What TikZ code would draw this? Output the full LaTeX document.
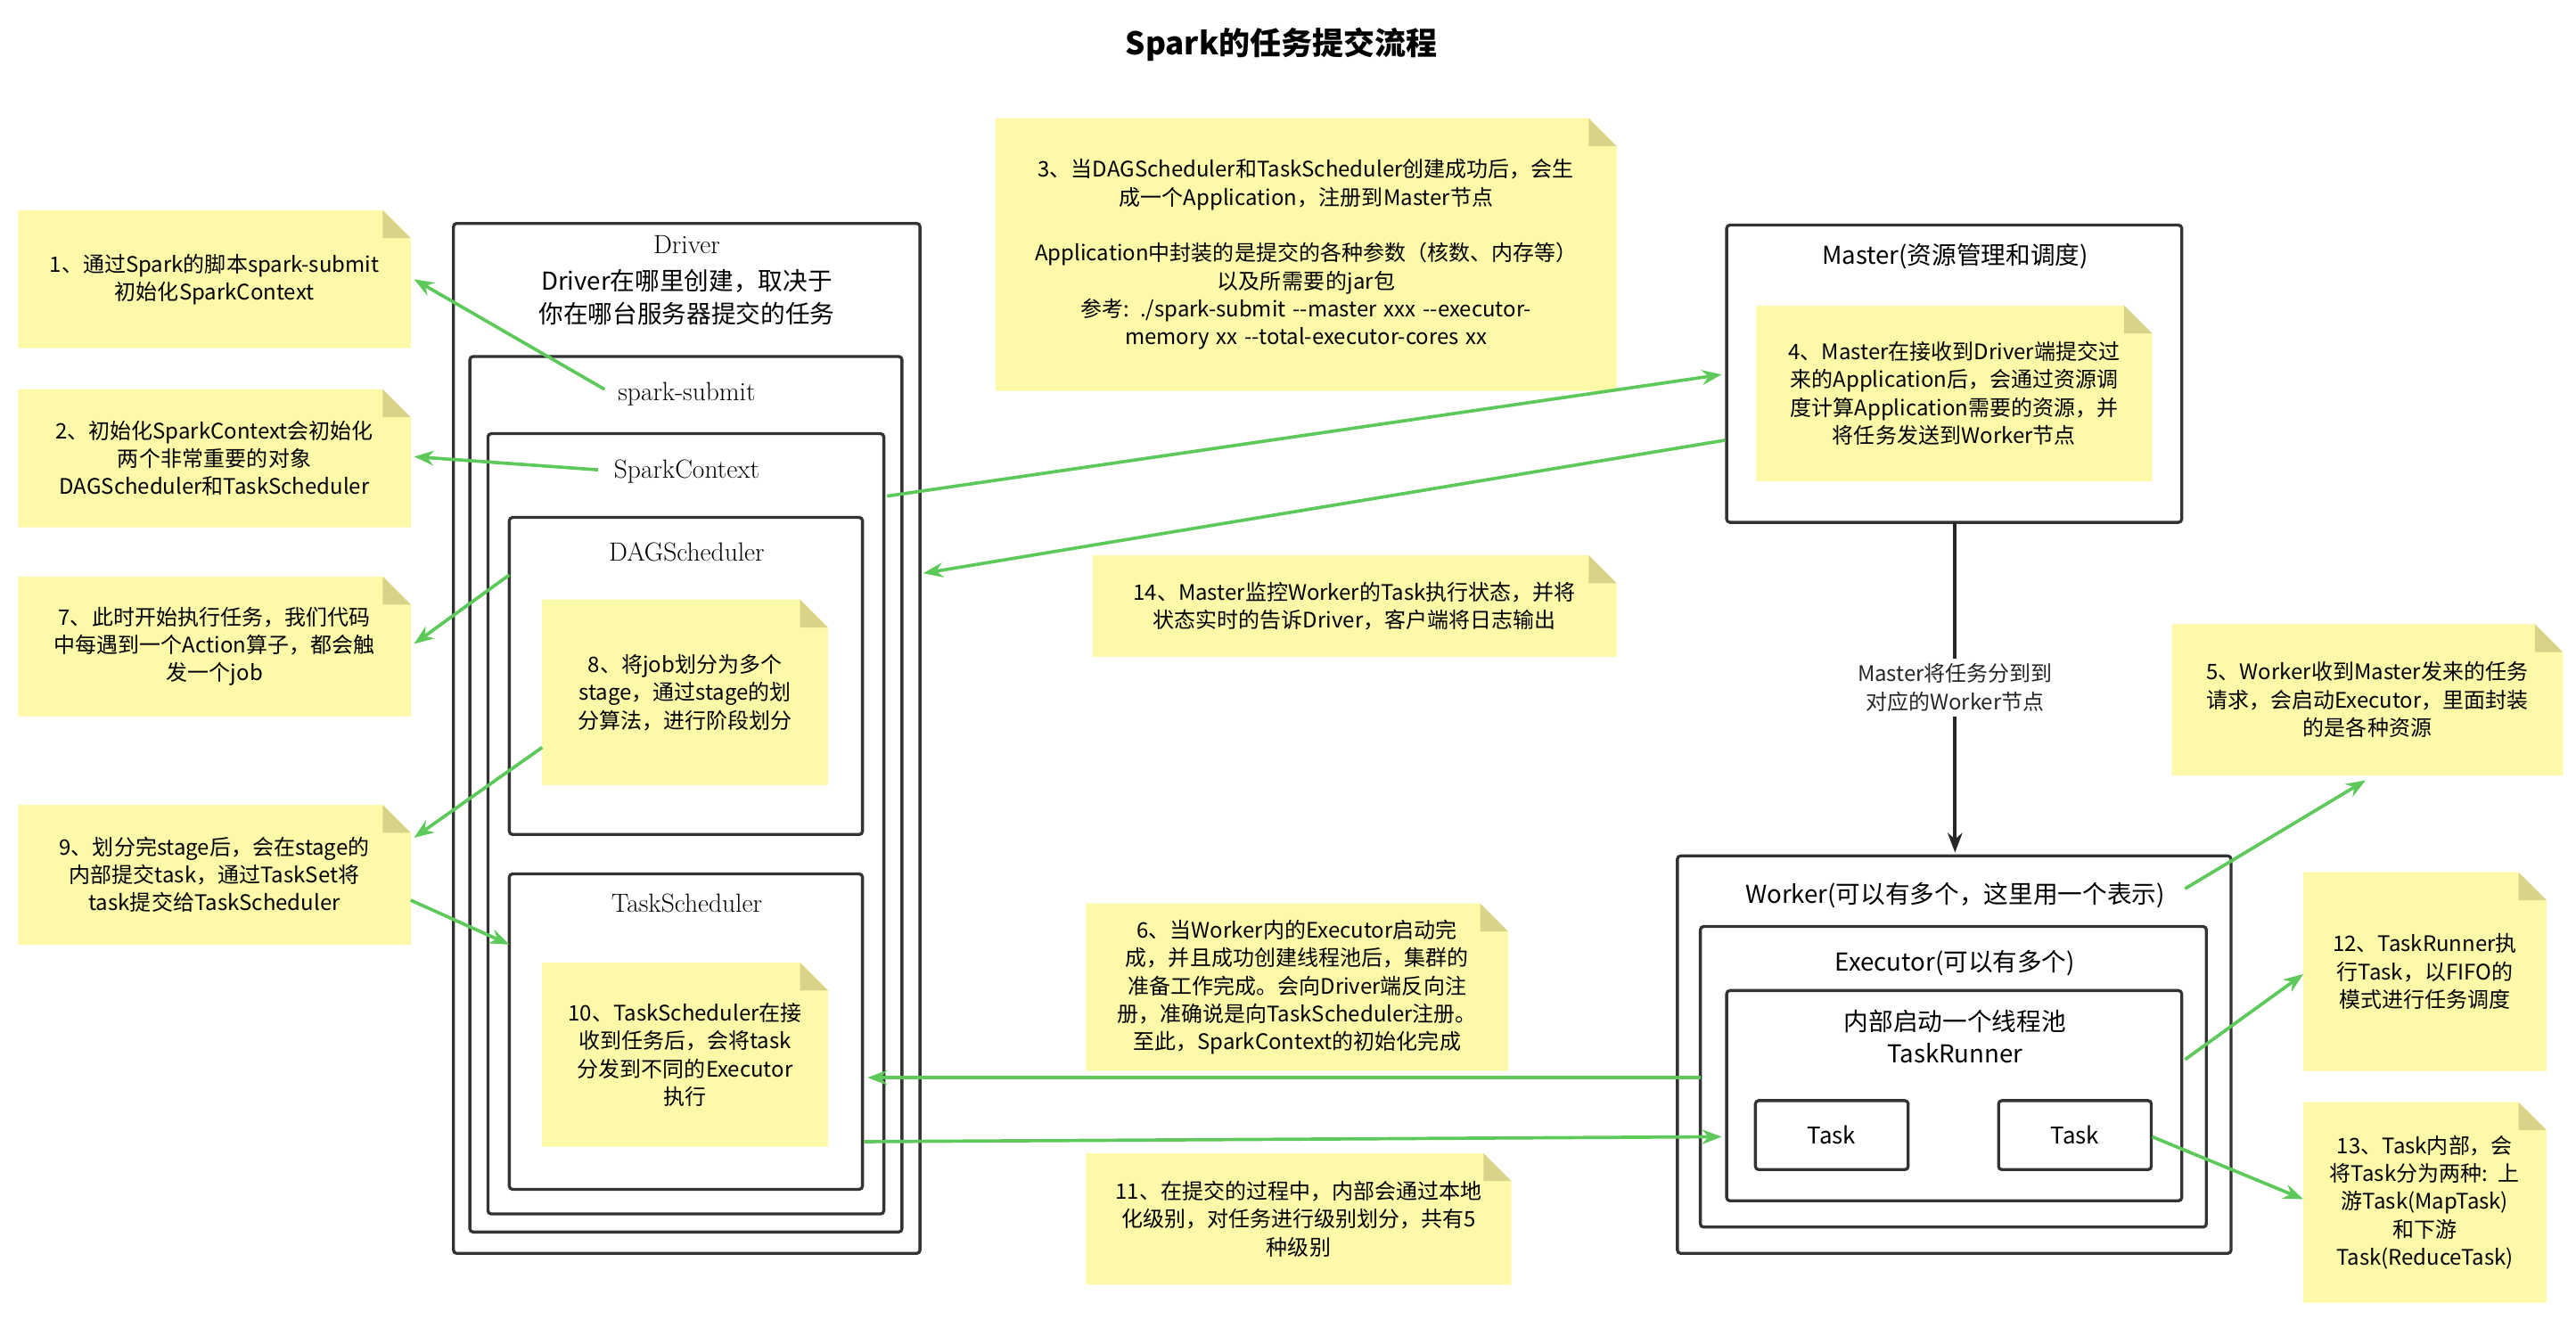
\documentclass[tikz,border=0pt]{standalone}
\usepackage{fontspec}
\setmainfont{Latin Modern Roman}
\newfontfamily\cjk{Noto Sans CJK SC}
\XeTeXlinebreaklocale "zh"
\XeTeXlinebreakskip=0pt plus 0.05pt
\usetikzlibrary{arrows.meta}
\definecolor{notec}{HTML}{FCFAA9}
\definecolor{foldc}{HTML}{D9D38A}
\definecolor{grn}{HTML}{5DC95A}
\newcommand{\mynote}[6]{%
 \fill[notec] (#2,#3) -- (#4-17,#3) -- (#4,#3+17) -- (#4,#5) -- (#2,#5) -- cycle;
 \fill[foldc] (#4-17,#3) -- (#4-17,#3+17) -- (#4,#3+17) -- cycle;
 \node[notetxt,text width={(#4-#2-6)*1pt}] (#1) at ({(#2+#4)/2},{(#3+#5)/2}) {#6};}
\begin{document}
\hyphenpenalty=10000
\exhyphenpenalty=10000
\begin{tikzpicture}[x=1pt,y=-1pt,
 notetxt/.style={align=center,font=\cjk\fontsize{13}{17}\selectfont,inner sep=0},
 box/.style={draw=black!80,line width=1.8pt,rounded corners=2pt},
 lbl/.style={font=\fontsize{16}{20}\selectfont,inner sep=0},
 clbl/.style={font=\cjk\fontsize{15}{20}\selectfont,inner sep=0,align=center},
 garr/.style={grn,line width=2pt,-{Stealth[length=12pt,width=9pt]}},
 task/.style={draw=black!80,line width=1.8pt,rounded corners=2pt,minimum width=93pt,minimum height=42pt,font=\cjk\fontsize{14}{17}\selectfont}]
\useasboundingbox (0,0) rectangle (1568,813);
\node[font=\cjk\bfseries\fontsize{19}{22}\selectfont] (title) at (780,27) {Spark的任务提交流程};
% boxes
\draw[box] (276,136) rectangle (560,763);
\node[lbl] (drv) at (418,149) {Driver};
\node[clbl] (drvt) at (418,181) {Driver在哪里创建，取决于\\你在哪台服务器提交的任务};
\draw[box] (286,217) rectangle (549,750);
\node[lbl] (ss) at (418,240) {spark-submit};
\draw[box] (297,264) rectangle (538,739);
\node[lbl] (sc) at (418,287) {SparkContext};
\draw[box] (310,315) rectangle (525,508);
\node[lbl] (dag) at (418,336) {DAGScheduler};
\draw[box] (310,532) rectangle (525,724);
\node[lbl] (ts) at (418,550) {TaskScheduler};
\draw[box] (1051,137) rectangle (1328,318);
\node[clbl] (master) at (1190,156) {Master(资源管理和调度)};
\draw[box] (1021,521) rectangle (1358,763);
\node[clbl] (worker) at (1190,545) {Worker(可以有多个，这里用一个表示)};
\draw[box] (1035,564) rectangle (1343,747);
\node[clbl] (exec) at (1190,586) {Executor(可以有多个)};
\draw[box] (1051,603) rectangle (1328,731);
\node[clbl] (pool) at (1190,631) {内部启动一个线程池\\TaskRunner};
\node[task] (t1) at (1115,691) {Task};
\node[task] (t2) at (1263,691) {Task};
% notes
\mynote{n1}{11}{128}{250}{212}{1、通过Spark的脚本spark-submit\\初始化SparkContext}
\mynote{n2}{11}{237}{250}{321}{2、初始化SparkContext会初始化\\两个非常重要的对象\\DAGScheduler和TaskScheduler}
\mynote{n7}{11}{351}{250}{436}{7、此时开始执行任务，我们代码\\中每遇到一个Action算子，都会触\\发一个job}
\mynote{n9}{11}{490}{250}{575}{9、划分完stage后，会在stage的\\内部提交task，通过TaskSet将\\task提交给TaskScheduler}
\mynote{n3}{606}{72}{984}{238}{3、当DAGScheduler和TaskScheduler创建成功后，会生\\成一个Application，注册到Master节点\\[17pt]Application中封装的是提交的各种参数（核数、内存等）\\以及所需要的jar包\\参考: ./spark-submit --master xxx --executor-\\memory xx --total-executor-cores xx}
\mynote{n14}{665}{338}{984}{400}{14、Master监控Worker的Task执行状态，并将\\状态实时的告诉Driver，客户端将日志输出}
\mynote{n4}{1069}{186}{1310}{293}{4、Master在接收到Driver端提交过\\来的Application后，会通过资源调\\度计算Application需要的资源，并\\将任务发送到Worker节点}
\mynote{n5}{1322}{380}{1560}{472}{5、Worker收到Master发来的任务\\请求，会启动Executor，里面封装\\的是各种资源}
\mynote{n12}{1402}{531}{1550}{652}{12、TaskRunner执\\行Task，以FIFO的\\模式进行任务调度}
\mynote{n13}{1402}{671}{1550}{793}{13、Task内部，会\\将Task分为两种: 上\\游Task(MapTask)\\和下游\\Task(ReduceTask)}
\mynote{n6}{661}{550}{918}{652}{6、当Worker内的Executor启动完\\成，并且成功创建线程池后，集群的\\准备工作完成。会向Driver端反向注\\册，准确说是向TaskScheduler注册。\\至此，SparkContext的初始化完成}
\mynote{n11}{661}{702}{920}{782}{11、在提交的过程中，内部会通过本地\\化级别，对任务进行级别划分，共有5\\种级别}
\mynote{n8}{330}{365}{504}{478}{8、将job划分为多个\\stage，通过stage的划\\分算法，进行阶段划分}
\mynote{n10}{330}{586}{504}{698}{10、TaskScheduler在接\\收到任务后，会将task\\分发到不同的Executor\\执行}
% black arrow
\coordinate (mb) at (1190,318);
\coordinate (wt) at (1190,519);
\draw[black!85,line width=2pt,-{Stealth[length=12pt,width=9pt]}] (mb) -- (wt)
  node[midway,fill=white,inner sep=3pt,align=center,font=\cjk\fontsize{13}{17}\selectfont] (mlbl) {Master将任务分到到\\对应的Worker节点};
% green arrows
\coordinate (a1s) at (368,237); \coordinate (a1e) at (252,170);
\coordinate (a2s) at (364,286); \coordinate (a2e) at (252,278);
\coordinate (a3s) at (310,350); \coordinate (a3e) at (252,392);
\coordinate (a4s) at (330,455); \coordinate (a4e) at (252,510);
\coordinate (a5s) at (250,548); \coordinate (a5e) at (310,575);
\coordinate (a6s) at (540,302); \coordinate (a6e) at (1048,228);
\coordinate (a7s) at (1050,268); \coordinate (a7e) at (562,349);
\coordinate (a8s) at (1035,656); \coordinate (a8e) at (528,656);
\coordinate (a9s) at (526,695); \coordinate (a9e) at (1048,692);
\coordinate (b1s) at (1330,541); \coordinate (b1e) at (1440,475);
\coordinate (b2s) at (1330,645); \coordinate (b2e) at (1402,593);
\coordinate (b3s) at (1310,692); \coordinate (b3e) at (1402,730);
\foreach \a in {a1,a2,a3,a4,a5,a6,a7,a8,a9,b1,b2,b3}{\draw[garr] (\a s) -- (\a e);}
\end{tikzpicture}
\end{document}
